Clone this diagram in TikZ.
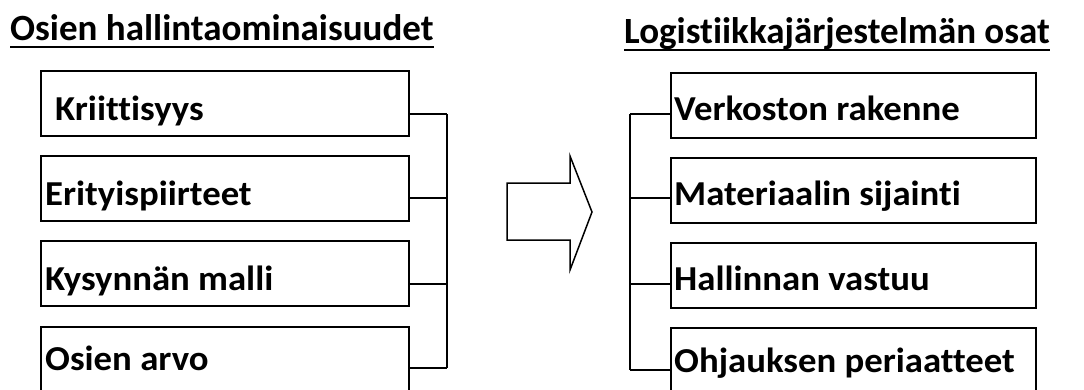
\documentclass[tikz,border=0pt]{standalone}
\usepackage{fontspec}
\setmainfont{Carlito}[Ligatures=NoCommon]
\newfontfamily\lblfont{Carlito}[Ligatures=NoCommon,FakeStretch=1.05]
\begin{document}
\begin{tikzpicture}[x=1pt,y=-1pt,
  box/.style={draw,line width=1.5pt,rectangle,minimum width=368pt,minimum height=65pt,inner sep=0pt,anchor=north west},
  rbox/.style={box,minimum width=365pt},
  lbl/.style={anchor=base west,inner sep=0pt,font=\lblfont\fontsize{35}{38}\selectfont\bfseries},
  ttl/.style={anchor=base west,inner sep=0pt,font=\fontsize{37}{40}\selectfont\bfseries},
  conn/.style={line width=1.5pt},
  uline/.style={line width=2.2pt}]
\useasboundingbox (0,0) rectangle (1084,389);
\clip (0,0) rectangle (1084,389);
% titles
\node[ttl] (t1) at (10,40) {Osien hallintaominaisuudet};
\node[ttl] (t2) at (624,43) {Logistiikkajärjestelmän osat};
\draw[uline] (t1.base west) ++(0,7) -- (t1.base east |- 0,47);
\draw[uline] (t2.base west) ++(0,7) -- (t2.base east |- 0,50);
% left boxes
\node[box] (l1) at (40,70) {};
\node[box] (l2) at (40,155) {};
\node[box] (l3) at (40,240) {};
\node[box] (l4) at (40,326) {};
\node[lbl] (lt1) at (55,120) {Kriittisyys};
\node[lbl] (lt2) at (45,205) {Erityispiirteet};
\node[lbl] (lt3) at (45,290) {Kysynnän malli};
\node[lbl] (lt4) at (45,370) {Osien arvo};
% right boxes
\node[rbox] (r1) at (670,72) {};
\node[rbox] (r2) at (670,157) {};
\node[rbox] (r3) at (670,242) {};
\node[rbox] (r4) at (670,327) {};
\node[lbl] (rt1) at (674,120) {Verkoston rakenne};
\node[lbl] (rt2) at (674,205) {Materiaalin sijainti};
\node[lbl] (rt3) at (674,290) {Hallinnan vastuu};
\node[lbl] (rt4) at (674,372) {Ohjauksen periaatteet};
% left connector
\coordinate (lv1) at (447,114);
\coordinate (lv2) at (447,198);
\coordinate (lv3) at (447,284);
\coordinate (lv4) at (447,368);
\draw[conn] (l1.east |- lv1) -- (lv1);
\draw[conn] (l2.east |- lv2) -- (lv2);
\draw[conn] (l3.east |- lv3) -- (lv3);
\draw[conn] (l4.east |- lv4) -- (lv4);
\draw[conn] (lv1) -- (lv4);
% right connector
\coordinate (rv1) at (630,114);
\coordinate (rv2) at (630,198);
\coordinate (rv3) at (630,284);
\coordinate (rv4) at (630,370);
\draw[conn] (rv1) -- (r1.west |- rv1);
\draw[conn] (rv2) -- (r2.west |- rv2);
\draw[conn] (rv3) -- (r3.west |- rv3);
\draw[conn] (rv4) -- (r4.west |- rv4);
\draw[conn] (rv1) -- (rv4);
% block arrow
\draw[line width=1.5pt,line join=miter] (507,183) -- (570,183) -- (570,156) -- (592,212) -- (570,270) -- (570,240) -- (507,240) -- cycle;
\end{tikzpicture}
\end{document}
